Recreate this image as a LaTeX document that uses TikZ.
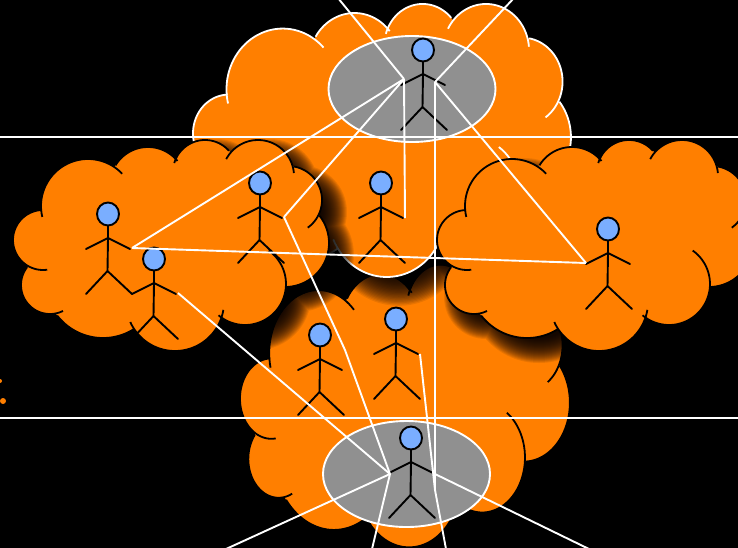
\documentclass[tikz,border=0pt]{standalone}
\usepackage{tikz}
\definecolor{cloudorange}{HTML}{FF7F00}
\definecolor{headblue}{HTML}{7AAEFF}
\definecolor{discgrey}{HTML}{909090}
\tikzset{
  x=1pt,y=-1pt,
  wire/.style={draw=white,line width=1.9pt,line join=miter},
  rule/.style={draw=white,line width=1.9pt},
  limb/.style={draw=black,line width=1.9pt,line cap=round,line join=round},
  headdisc/.style={draw=black,line width=1.9pt,fill=headblue},
  disc/.style={draw=white,line width=1.9pt,fill=discgrey}
}
\def\lobelist{43/240/30,50/285/29,88/206/47,148/185/38,205/172/32,258/176/36,288/200/34,285/243/44,245/284/41,175/302/49,103/280/58}
\def\arclist{43/240/30/47/268/42/212,50/285/29/63/311/27/267,88/206/47/42/217/124/172,148/185/38/115/165/175/163,205/172/32/174/163/232/148,258/176/36/226/159/294/173,288/200/34/294/167/308/228,285/243/44/320/215/287/287,245/284/41/267/253/223/310,175/302/49/224/310/128/323,103/280/58/137/333/63/311}
% #1 x0, #2 y0, #3 xscale, #4 yscale, #5 outline colour
\newcommand\cloudshape[5]{%
  \begin{scope}[shift={(#1+12,#2+12)},xscale=#3,yscale=#4]
    \foreach \wd in {13,12,...,-12}{
      \fill[black,opacity=.085] \foreach \cX/\cY/\cR in \lobelist {(\cX,\cY) circle[radius=\cR+\wd]};
    }
  \end{scope}
  \begin{scope}[shift={(#1,#2)},xscale=#3,yscale=#4]
    \fill[cloudorange] \foreach \cX/\cY/\cR in \lobelist {(\cX,\cY) circle[radius=\cR]};
    \fill[cloudorange] (60,230)--(120,180)--(300,180)--(300,260)--(240,300)--(180,320)--(90,310)--cycle;
    \foreach \cX/\cY/\cR/\sX/\sY/\eX/\eY in \arclist {
      \pgfmathsetmacro\aS{atan2(\sY-\cY,\sX-\cX)}
      \pgfmathsetmacro\aE{atan2(\eY-\cY,\eX-\cX)}
      \pgfmathsetmacro\aE{\aE<\aS?\aE+360:\aE}
      \draw[draw=#5,line width=1.8pt] plot[domain=\aS:\aE,samples=40] ({\cX+\cR*cos(\x)},{\cY+\cR*sin(\x)});
    }
  \end{scope}}
\newcommand\stick[2]{%
  \begin{scope}[shift={(#1,#2)}]
    \draw[limb] (0,11)--(0,24) (-22,35)--(0,24)--(22,35) (0,24)--(-0.5,57) (-22,80)--(-0.5,57)--(24,80);
    \draw[headdisc] (0,0) ellipse[x radius=11,y radius=11.5];
  \end{scope}}
\begin{document}
\begin{tikzpicture}
\useasboundingbox (0,0) rectangle (738,547);
\fill[black] (-5,-5) rectangle (743,552);
\fill[cloudorange] (3,401) circle[radius=3];
\fill[cloudorange] (0,381) circle[radius=2];
% clouds, back to front
\cloudshape{226.4}{77}{1.044}{1.34}{black}
\cloudshape{177.45}{-177.2}{1.196}{1.294}{white}
\cloudshape{0}{0}{1}{1}{black}
\cloudshape{424}{0}{1}{1}{black}
% discs
\draw[disc] (412,89) ellipse[x radius=83.5,y radius=53];
\draw[disc] (406.5,474) ellipse[x radius=83.5,y radius=53];
% figures
\stick{423}{50}
\stick{381}{183}
\stick{260}{183}
\stick{108}{214}
\stick{154}{259}
\stick{320}{335}
\stick{396}{319}
\stick{411}{438}
\stick{608}{229}
% rules
\coordinate (ruleAw) at (-2,137);
\coordinate (ruleAe) at (740,137);
\coordinate (ruleBw) at (-2,418);
\coordinate (ruleBe) at (740,418);
\draw[rule] (ruleAw)--(ruleAe);
\draw[rule] (ruleBw)--(ruleBe);
% connector ends
\coordinate (hubA) at (404,79);
\coordinate (hubB) at (435,82);
\coordinate (hubC) at (390,474);
\coordinate (hubD) at (435,490);
\coordinate (hubE) at (435,474);
\coordinate (topL) at (338,-2);
\coordinate (topR) at (514,-2);
\coordinate (armA) at (132,248);
\coordinate (armB) at (284,217);
\coordinate (armC) at (405,218);
\coordinate (armD) at (586,263);
\coordinate (armE) at (178,293);
\coordinate (armF) at (420,354);
\coordinate (bendB) at (345,350);
\coordinate (botA) at (226,549);
\coordinate (botB) at (372,549);
\coordinate (botC) at (446,549);
\coordinate (botD) at (589,549);
\draw[wire] (topL)--(hubA);
\draw[wire] (armA)--(hubA);
\draw[wire] (armB)--(hubA);
\draw[wire] (armC)--(hubA);
\draw[wire] (topR)--(hubB);
\draw[wire] (hubB)--(armD);
\draw[wire] (hubB)--(hubD)--(botC);
\draw[wire] (armA)--(armD);
\draw[wire] (armB)--(bendB)--(hubC);
\draw[wire] (armE)--(hubC);
\draw[wire] (hubC)--(botA);
\draw[wire] (hubC)--(botB);
\draw[wire] (armF)--(hubD);
\draw[wire] (hubE)--(botD);
\end{tikzpicture}
\end{document}
